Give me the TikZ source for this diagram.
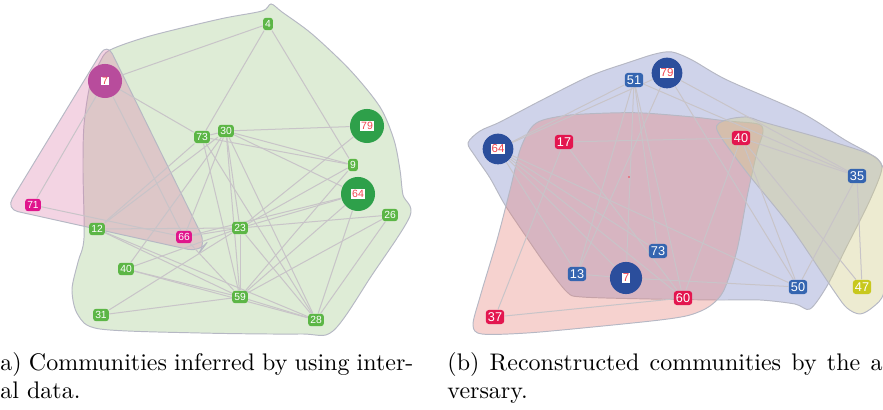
\documentclass[tikz,border=0pt]{standalone}
\usepackage{fontspec}
\newfontfamily\nodefont{Liberation Sans}
\definecolor{hullgreen}{RGB}{222,236,214}
\definecolor{hullpink}{RGB}{220,129,173}
\definecolor{hullblue}{RGB}{118,129,195}
\definecolor{hullred}{RGB}{229,126,118}
\definecolor{hullyellow}{RGB}{210,205,140}
\definecolor{hullline}{RGB}{182,184,196}
\definecolor{edgecol}{RGB}{200,196,200}
\definecolor{lgreen}{RGB}{92,182,70}
\definecolor{dgreen}{RGB}{46,160,74}
\definecolor{magbox}{RGB}{224,21,140}
\definecolor{purpcirc}{RGB}{184,76,156}
\definecolor{bluebox}{RGB}{53,101,176}
\definecolor{bluecirc}{RGB}{43,78,156}
\definecolor{redbox}{RGB}{227,22,79}
\definecolor{yelbox}{RGB}{200,200,30}
\definecolor{labred}{RGB}{240,68,79}
\pgfdeclarelayer{hulllayer}
\pgfdeclarelayer{edgelayer}
\pgfsetlayers{hulllayer,edgelayer,main}
\begin{document}
\begin{tikzpicture}[x=0.417pt,y=-0.417pt,
  hull/.style={draw=hullline, line width=0.4pt},
  edge/.style={draw=edgecol, line width=0.42pt},
  sbox/.style={rectangle, rounded corners=1.1pt, text=white, font=\nodefont\fontsize{4.3}{5}\selectfont, inner xsep=0.85pt, inner ysep=0pt, minimum height=5.1pt, minimum width=3.9pt},
  gbox/.style={sbox, fill=lgreen},
  mbox/.style={sbox, fill=magbox},
  rbase/.style={rectangle, rounded corners=1.3pt, text=white, font=\nodefont\fontsize{5.3}{6}\selectfont, inner xsep=0.9pt, inner ysep=0pt, minimum height=5.9pt},
  bbox/.style={rbase, fill=bluebox},
  redb/.style={rbase, fill=redbox},
  ybox/.style={rbase, fill=yelbox},
  lcirc/.style={circle, inner sep=0pt, minimum size=14.2pt},
  rcirc/.style={circle, inner sep=0pt, minimum size=12.8pt, fill=bluecirc},
  clab/.style={rectangle, fill=white, text=labred, inner sep=0.35pt, font=\nodefont\fontsize{4.4}{5}\selectfont},
  rclab/.style={clab, font=\nodefont\fontsize{4.8}{5}\selectfont},
  captext/.style={anchor=base west, inner sep=0pt, font=\fontsize{10}{12}\selectfont}
]
\useasboundingbox (0,0) rectangle (883,410);

\begin{pgfonlayer}{hulllayer}
% left panel hulls
\path[hull, fill=hullgreen] plot[smooth cycle, tension=0.5] coordinates {
 (110,50) (150,36) (220,19) (262,11) (271,4) (282,12) (312,34) (350,70) (380,107)
 (394,140) (400,170) (403,195) (410,216) (372,275) (333,331) (300,334) (200,333)
 (100,329) (78,315) (72,290) (78,262) (84,238) (83,170) (84,125) (90,85) (100,62)};
\path[hull, fill=hullpink, fill opacity=0.34, rounded corners=5pt]
 (107,43) -- (6,209) -- (200,252) -- (206,244) -- cycle;
% right panel hulls
\path[hull, fill=hullblue, fill opacity=0.35] plot[smooth cycle, tension=0.5] coordinates {
 (468,143) (480,131) (500,122) (540,101) (590,76) (630,62) (655,54) (672,52) (692,60)
 (727,80) (800,112) (845,140) (870,154) (882,167) (870,200) (845,250) (827,286)
 (810,309) (795,304) (760,300) (717,300) (650,299) (582,297) (567,292) (545,264)
 (525,235) (505,205) (490,178) (475,156)};
\path[hull, fill=hullred, fill opacity=0.35] plot[smooth cycle, tension=0.5] coordinates {
 (543,120) (570,115) (610,113) (643,113) (693,117) (727,121) (758,124) (763,132)
 (757,152) (747,197) (737,250) (724,290) (710,306) (690,315) (660,320) (593,327)
 (527,333) (482,334) (473,325) (480,297) (497,240) (510,190) (520,150) (531,128)};
\path[hull, fill=hullyellow, fill opacity=0.4] plot[smooth cycle, tension=0.5] coordinates {
 (717,130) (726,120) (747,117) (763,122) (820,138) (867,153) (880,162) (888,185)
 (889,240) (884,292) (873,307) (860,314) (847,308) (834,291) (790,226) (745,170)};
\end{pgfonlayer}

% ---------------- left panel nodes ----------------
\node[gbox] (L4)  at (268,24)  {4};
\node[gbox] (L73) at (202,137) {73};
\node[gbox] (L30) at (226,131) {30};
\node[gbox] (L9)  at (353,165) {9};
\node[mbox] (L71) at (33,205)  {71};
\node[gbox] (L12) at (97,229)  {12};
\node[mbox] (L66) at (184,237) {66};
\node[gbox] (L23) at (240,228) {23};
\node[gbox] (L26) at (390,215) {26};
\node[gbox] (L40) at (126,269) {40};
\node[gbox] (L59) at (240,297) {59};
\node[gbox] (L31) at (101,315) {31};
\node[gbox] (L28) at (316,320) {28};
\node[lcirc, fill=purpcirc] (L7)  at (105,81)  {};
\node[lcirc, fill=dgreen]   (L79) at (367,126) {};
\node[lcirc, fill=dgreen]   (L64) at (358,194) {};
\node[clab] (L7t)  at (L7)  {7};
\node[clab] (L79t) at (L79) {79};
\node[clab] (L64t) at (L64) {64};

% ---------------- right panel nodes ----------------
\node[bbox] (R51) at (634,80)  {51};
\node[redb] (R17) at (564,142) {17};
\node[redb] (R40) at (741,138) {40};
\node[bbox] (R35) at (857,176) {35};
\node[bbox] (R73) at (658,251) {73};
\node[bbox] (R13) at (577,274) {13};
\node[redb] (R60) at (683,298) {60};
\node[bbox] (R50) at (798,287) {50};
\node[redb] (R37) at (495,317) {37};
\node[ybox] (R47) at (862,287) {47};
\node[rcirc] (R79) at (667,73)  {};
\node[rcirc] (R64) at (498,149) {};
\node[rcirc, minimum size=13.4pt] (R7) at (626,278) {};
\node[rclab] (R79t) at (R79) {79};
\node[rclab] (R64t) at (R64) {64};
\node[rclab] (R7t)  at (R7)  {7};
\fill[labred] (629,177) circle (0.9);

\begin{pgfonlayer}{edgelayer}
\foreach \a/\b in {L7/L4, L7/L73, L7/L71, L7/L66, L4/L73, L4/L9,
  L30/L79, L30/L9, L73/L9, L30/L64, L30/L23, L30/L59, L30/L28, L30/L66, L30/L12, L30/L40, L30/L73,
  L73/L12, L73/L59, L73/L28, L79/L23, L9/L23, L9/L59,
  L64/L23, L64/L66, L64/L59, L64/L28,
  L26/L23, L26/L59, L26/L28, L23/L59, L23/L28, L23/L40, L23/L31, L23/L66, L12/L23,
  L40/L59, L40/L28, L31/L59, L59/L28, L12/L59, L12/L28, L71/L66, L66/L59,
  R64/R51, R64/R79, R64/R13, R64/R7, R64/R73, R64/R60, R64/R50,
  R51/R13, R51/R7, R51/R73, R51/R60, R51/R35, R79/R13, R79/R50, R79/R35,
  R17/R40, R17/R60, R17/R37, R37/R60, R40/R60, R40/R35, R40/R50, R40/R47,
  R35/R50, R35/R47, R13/R7, R7/R50}
  \draw[edge] (\a) -- (\b);
\end{pgfonlayer}

% ---------------- captions ----------------
\node[captext] (capa1) at (0,371)   {\hbox to 172.2pt{a) Communities inferred by using inter-}};
\node[captext] (capa2) at (0,399)   {al data.};
\node[captext] (capb1) at (447,371) {\hbox to 181.4pt{(b) Reconstructed communities by the a}};
\node[captext] (capb2) at (447,399) {versary.};
\end{tikzpicture}
\end{document}
